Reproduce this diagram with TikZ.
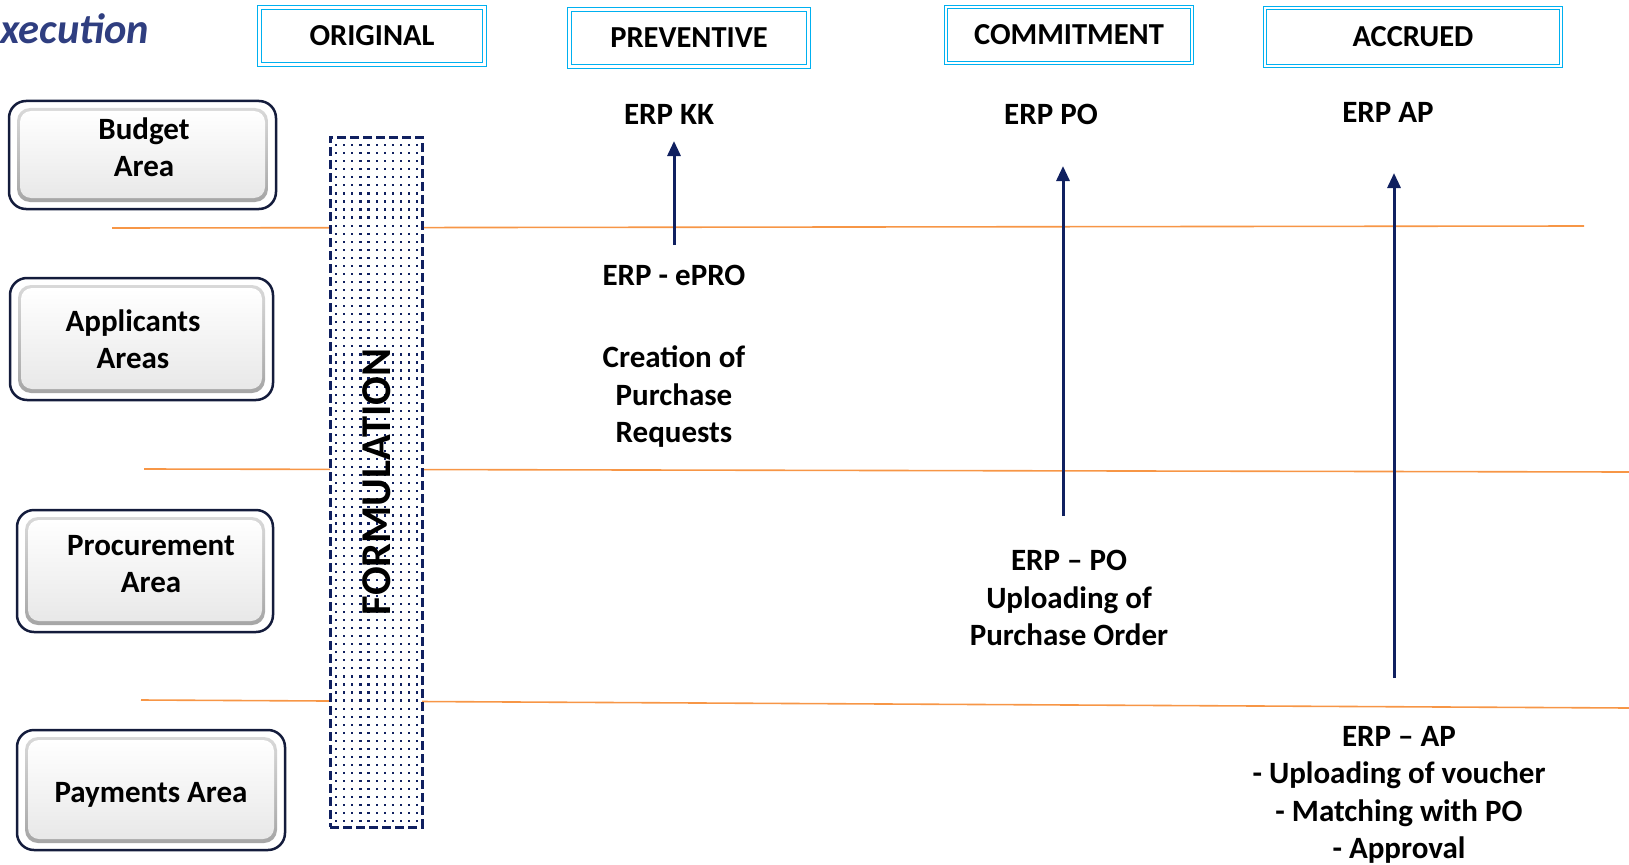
\documentclass[tikz,border=0pt]{standalone}
\usepackage{fontspec}
\setmainfont{Carlito}
\usetikzlibrary{arrows.meta}
\definecolor{navy}{RGB}{16,32,96}
\definecolor{boxnavy}{RGB}{20,28,60}
\definecolor{hdrblue}{RGB}{0,176,240}
\definecolor{orangeline}{RGB}{247,150,70}
\definecolor{titleblue}{RGB}{47,62,128}
\tikzset{
  hdr/.style={draw=hdrblue, double=white, double distance=2.5pt, line width=1pt, inner sep=0pt,
    font=\bfseries\fontsize{30.5}{36}\selectfont},
  lbl/.style={align=center, inner sep=0pt, font=\bfseries\fontsize{31}{37.5}\selectfont},
  areatext/.style={align=center, inner sep=0pt, font=\bfseries\fontsize{31}{36.5}\selectfont},
  lane/.style={draw=orangeline, line width=1.6pt},
  uparrow/.style={draw=navy, line width=3pt, -{Triangle[length=15pt,width=13pt]}},
  fbar/.style={draw=navy, line width=3pt, dash pattern=on 9pt off 4pt, inner sep=0pt},
  dotsq/.style={fill=navy}
}
\newcommand\areabox[4]{%
  \draw[line width=2.5pt, draw=boxnavy, fill=white, rounded corners=17pt] (#1,#2) rectangle (#3,#4);
  \shade[rounded corners=13pt, top color=gray!30, bottom color=gray!70] (#1+8,#2+7) rectangle (#3-8,#4-7);
  \shade[rounded corners=11pt, top color=white, middle color=white, bottom color=gray!18] (#1+11,#2+10) rectangle (#3-11,#4-11);
}
\begin{document}
\begin{tikzpicture}[x=1pt,y=-1pt]
\useasboundingbox (0,0) rectangle (1629,864);

% title
\node[anchor=west, inner sep=0pt, text=titleblue, font=\bfseries\itshape\fontsize{42.5}{48}\selectfont] (title) at (0,29) {xecution};

% header boxes
\node[hdr, minimum width=225pt, minimum height=57pt] (original) at (372,36) {ORIGINAL};
\node[hdr, minimum width=239pt, minimum height=57pt] (preventive) at (689,38) {PREVENTIVE};
\node[hdr, minimum width=246pt, minimum height=56pt] (commitment) at (1069,35) {COMMITMENT};
\node[hdr, minimum width=296pt, minimum height=58pt] (accrued) at (1413,37) {ACCRUED};

% lane lines
\coordinate (l1a) at (112,228); \coordinate (l1b) at (1584,226);
\coordinate (l2a) at (144,469); \coordinate (l2b) at (1629,472);
\coordinate (l3a) at (141,700); \coordinate (l3b) at (1629,708);
\draw[lane] (l1a) -- (l1b);
\draw[lane] (l2a) -- (l2b);
\draw[lane] (l3a) -- (l3b);

% left area boxes
\areabox{9}{101}{276}{209}
\node[areatext] (budget) at (144,147) {Budget\\Area};
\areabox{10}{278}{273}{400}
\node[areatext] (applicants) at (133,339) {Applicants\\Areas};
\areabox{17}{510}{273}{632}
\node[areatext] (procurement) at (151,564) {Procurement\\Area};
\areabox{17}{730}{285}{850}
\node[areatext] (payments) at (151,795) {Payments Area};

% formulation bar
\fill[white] (330,137) rectangle (422,827);
\foreach \i in {0,...,10}{
  \foreach \j in {0,...,84}{
    \fill[dotsq] ({335+8.1*\i},{144+8.05*\j}) rectangle ++(2.2,2.2);
  }
}
\node[fbar, minimum width=92pt, minimum height=690pt] (bar) at (376,482) {};
\node[rotate=90, inner sep=0pt, font=\bfseries\fontsize{42.5}{48}\selectfont] (ftext) at (377,482) {FORMULATION};

% labels
\node[lbl] (erpkk) at (669,114) {ERP KK};
\node[lbl] (erppo) at (1051,114) {ERP PO};
\node[lbl] (erpap) at (1388,112) {ERP AP};
\node[lbl] (epro) at (674,275) {ERP - ePRO};
\node[lbl] (creation) at (674,397) {Creation of\\Purchase\\Requests};
\node[lbl] (uppo) at (1069,598) {ERP -- PO\\Uploading of\\Purchase Order};
\node[lbl] (upap) at (1399,795) {ERP -- AP\\- Uploading of voucher\\- Matching with PO\\- Approval};

% arrows
\coordinate (a1s) at (674,245); \coordinate (a1e) at (674,141);
\coordinate (a2s) at (1063,516); \coordinate (a2e) at (1063,166);
\coordinate (a3s) at (1394,678); \coordinate (a3e) at (1394,173);
\draw[uparrow] (a1s) -- (a1e);
\draw[uparrow] (a2s) -- (a2e);
\draw[uparrow] (a3s) -- (a3e);
\end{tikzpicture}
\end{document}
